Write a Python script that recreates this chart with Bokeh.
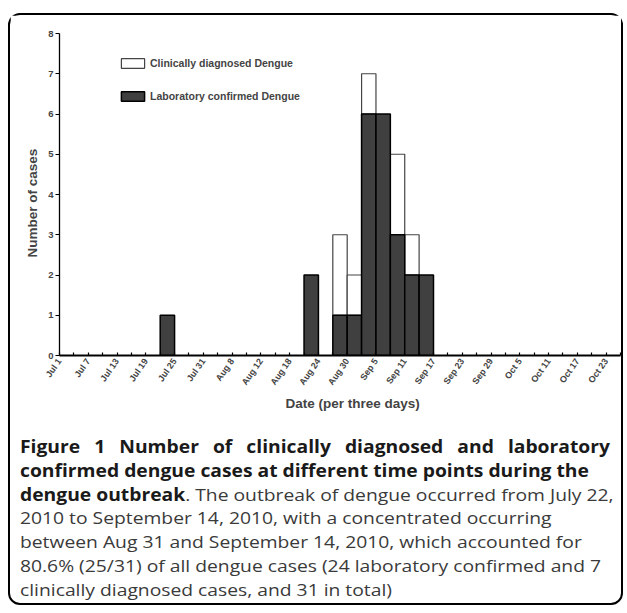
import math
from bokeh.plotting import figure
from bokeh.layouts import column
from bokeh.models import (Range1d, FixedTicker, Legend, LegendItem,
                          ColumnDataSource, Title, Div)
from bokeh.embed import file_html
from bokeh.resources import INLINE

# ---------------- data ----------------
tick_labels = ["Jul 1", "Jul 7", "Jul 13", "Jul 19", "Jul 25", "Jul 31", "Aug 8",
               "Aug 12", "Aug 18", "Aug 24", "Aug 30", "Sep 5", "Sep 11", "Sep 17",
               "Sep 23", "Sep 29", "Oct 5", "Oct 11", "Oct 17", "Oct 23"]
# 39 three-day periods; period j ends at tick j+1
lab_confirmed = [0, 0, 0, 0, 0, 0, 0, 1, 0, 0,
                 0, 0, 0, 0, 0, 0, 0, 2, 0, 1,
                 1, 6, 6, 3, 2, 2, 0, 0, 0, 0,
                 0, 0, 0, 0, 0, 0, 0, 0, 0]
clin_diagnosed = [0, 0, 0, 0, 0, 0, 0, 0, 0, 0,
                  0, 0, 0, 0, 0, 0, 0, 0, 0, 2,
                  1, 1, 0, 2, 1, 0, 0, 0, 0, 0,
                  0, 0, 0, 0, 0, 0, 0, 0, 0]
y_max = 8
n_periods = len(lab_confirmed)

caption_line1 = "Figure 1 Number of clinically diagnosed and laboratory"
caption_bold = ["confirmed dengue cases at different time points during the",
                "dengue outbreak"]
caption_rest = [". The outbreak of dengue occurred from July 22,",
                "2010 to September 14, 2010, with a concentrated occurring",
                "between Aug 31 and September 14, 2010, which accounted for",
                "80.6% (25/31) of all dengue cases (24 laboratory confirmed and 7",
                "clinically diagnosed cases, and 31 in total)"]

# ---------------- layout (page px) ----------------
BORDER = 2
X0, Y0 = 8 + BORDER, 13 + BORDER          # content origin inside the rounded box
FRAME_L, FRAME_R, FRAME_T, FRAME_B = 59, 620, 33, 355
WA, HA = 611, 400
HB = 605 - BORDER - (Y0 + HA)
AX = "Liberation Sans"

pA = figure(width=WA, height=HA, output_backend="svg", toolbar_location=None,
            x_range=Range1d(0, n_periods), y_range=Range1d(0, y_max),
            min_border_left=FRAME_L - X0, min_border_right=X0 + WA - FRAME_R,
            min_border_top=FRAME_T - Y0, min_border_bottom=Y0 + HA - FRAME_B)
pA.outline_line_color = None
pA.grid.visible = False
pA.background_fill_color = "white"
pA.border_fill_color = "white"

lab_idx = [j for j in range(n_periods) if lab_confirmed[j] > 0]
clin_idx = [j for j in range(n_periods) if clin_diagnosed[j] > 0]
src_lab = ColumnDataSource(dict(x=[j + 0.5 for j in lab_idx],
                                top=[lab_confirmed[j] for j in lab_idx]))
src_clin = ColumnDataSource(dict(x=[j + 0.5 for j in clin_idx],
                                 bottom=[lab_confirmed[j] for j in clin_idx],
                                 top=[lab_confirmed[j] + clin_diagnosed[j] for j in clin_idx]))
r_clin = pA.vbar(x="x", bottom="bottom", top="top", width=1, source=src_clin,
                 fill_color="white", line_color="#444444", line_width=1.2)
r_lab = pA.vbar(x="x", bottom=0, top="top", width=1, source=src_lab,
                fill_color="#404040", line_color="black", line_width=1.5)

xa = pA.xaxis[0]
xa.ticker = FixedTicker(ticks=list(range(0, n_periods + 1)))
xa.major_label_overrides = {k: (tick_labels[k // 2] if k % 2 == 0 else "")
                            for k in range(0, n_periods + 1)}
xa.major_tick_in = 3
xa.major_tick_out = 0
xa.minor_tick_line_color = None
xa.axis_line_width = 2
xa.major_tick_line_width = 1.2
xa.major_label_orientation = 0.96
xa.major_label_text_font = AX
xa.major_label_text_font_style = "bold"
xa.major_label_text_font_size = "9px"
xa.major_label_standoff = 4

ya = pA.yaxis[0]
ya.ticker = FixedTicker(ticks=list(range(0, y_max + 1)))
ya.major_tick_in = 0
ya.major_tick_out = 4
ya.minor_tick_line_color = None
ya.axis_line_width = 1.3
ya.major_tick_line_width = 1.2
ya.major_label_text_font = AX
ya.major_label_text_font_style = "bold"
ya.major_label_text_font_size = "9.5px"
ya.major_label_standoff = 2

pA.add_layout(Title(text="Date (per three days)", align="left", offset=226, standoff=3,
                    text_font=AX, text_font_style="bold", text_font_size="13.5px"), "below")
pA.add_layout(Title(text="Number of cases", align="left", offset=98, standoff=12,
                    text_font=AX, text_font_style="bold", text_font_size="13.5px"), "left")

legend = Legend(items=[LegendItem(label="Clinically diagnosed Dengue", renderers=[r_clin]),
                       LegendItem(label="Laboratory confirmed Dengue", renderers=[r_lab])],
                location=(59, 253), orientation="vertical",
                glyph_width=29, glyph_height=12, label_height=12, label_standoff=3,
                spacing=21, padding=0, margin=0,
                border_line_color=None, background_fill_alpha=0,
                label_text_font=AX, label_text_font_style="bold",
                label_text_font_size="10.5px")
pA.add_layout(legend, "center")

# ---------------- caption ----------------
bold_css = "font-weight:bold;color:#1a1a1a;"
line_css = ("height:23.8px;line-height:23.8px;white-space:nowrap;"
            "transform:scaleY(0.88);transform-origin:50% 50%;")
lines = [
    f'<div style="{line_css}{bold_css}text-align:justify;text-align-last:justify;">'
    f'{caption_line1}</div>',
    f'<div style="{line_css}"><span style="{bold_css}">{caption_bold[0]}</span></div>',
    f'<div style="{line_css}"><span style="{bold_css}">{caption_bold[1]}</span>'
    f'{caption_rest[0]}</div>',
] + [f'<div style="{line_css}">{t}</div>' for t in caption_rest[1:]]
html = ('<div style="font-family:\'Open Sans\',sans-serif;font-size:19.3px;'
        'color:#3a3a3a;margin:20px 0 0 10px;width:590px;">' + "".join(lines) + '</div>')
cap = Div(text=html, width=WA, height=HB, margin=0)

layout = column(pA, cap, spacing=0, margin=(13, 0, 0, 8),
                styles={"border": "2px solid black", "border-radius": "12px",
                        "background-color": "white"})

open("out.html", "w").write(file_html(layout, INLINE))
